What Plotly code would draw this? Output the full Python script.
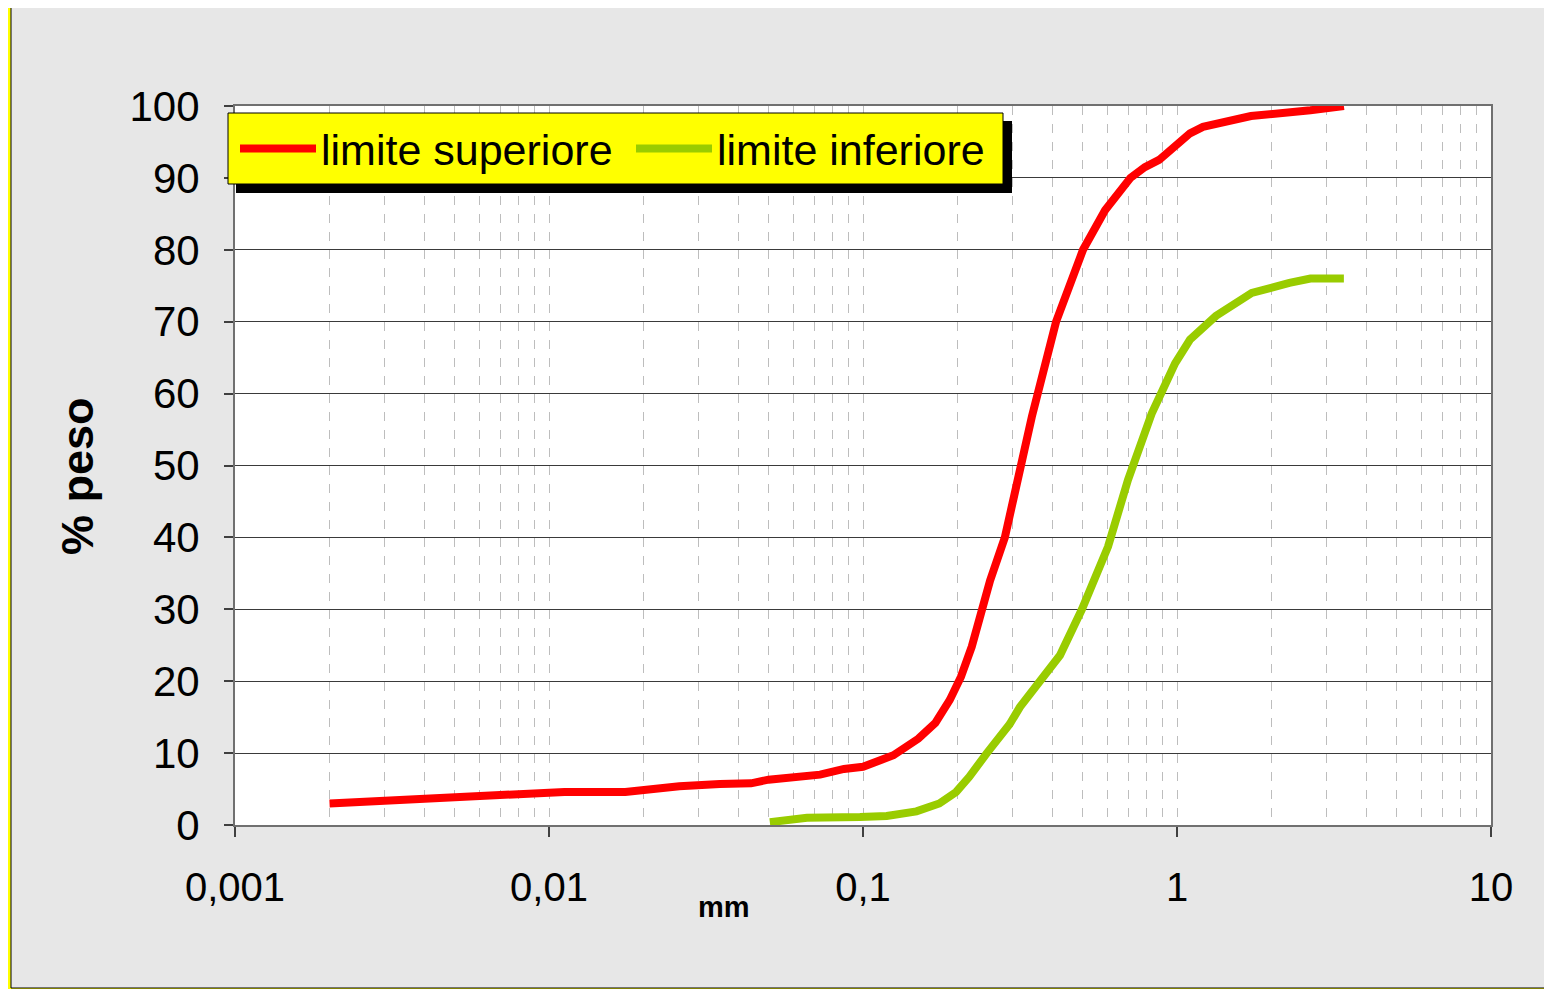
import plotly.graph_objects as go

# ---- data ----
sup_x = [0.002, 0.0112, 0.0175, 0.026, 0.035, 0.044, 0.05, 0.073, 0.087, 0.1,
         0.125, 0.15, 0.17, 0.189, 0.205, 0.222, 0.254, 0.283, 0.345, 0.412,
         0.502, 0.59, 0.711, 0.79, 0.877, 1.1, 1.21, 1.72, 2.66, 3.4]
sup_y = [3.0, 4.6, 4.6, 5.4, 5.7, 5.8, 6.3, 7.0, 7.8, 8.1,
         9.7, 12.0, 14.2, 17.4, 20.6, 24.8, 34.0, 40.0, 56.8, 70.0,
         80.0, 85.5, 90.0, 91.5, 92.5, 96.2, 97.1, 98.6, 99.4, 100.0]

inf_x = [0.0505, 0.0663, 0.0978, 0.119, 0.148, 0.175, 0.198, 0.218, 0.248,
         0.293, 0.316, 0.424, 0.498, 0.603, 0.698, 0.832, 0.986, 1.1, 1.33,
         1.73, 2.28, 2.66, 3.4]
inf_y = [0.4, 1.0, 1.1, 1.25, 1.9, 3.0, 4.6, 6.7, 10.0,
         14.0, 16.4, 23.6, 30.0, 38.7, 48.0, 57.3, 64.2, 67.5, 70.8,
         74.0, 75.4, 76.0, 76.0]

x_tickvals = [0.001, 0.01, 0.1, 1, 10]
x_ticktext = ["0,001", "0,01", "0,1", "1", "10"]
y_tickvals = list(range(0, 101, 10))
minor_vals = [m * d for d in (0.001, 0.01, 0.1, 1) for m in range(2, 10)]

name_sup = "limite superiore"
name_inf = "limite inferiore"
x_title = "mm"
y_title = "% peso"

# page layout (the html body adds an 8px offset)
OFF = 8
PW, PH = 1552, 989
W, H = PW - OFF, PH - OFF
PL, PR, PT, PB = 235, 1491, 106, 825          # plot area in page pixels
L, T = PL - OFF, PT - OFF
R, B = W - (PR - OFF), H - (PB - OFF)

def dx(p):   # page x pixel -> x domain fraction
    return (p - PL) / (PR - PL)

def dy(p):   # page y pixel -> y domain fraction
    return (PB - p) / (PB - PT)

FONT = "Liberation Sans, Arial, sans-serif"

fig = go.Figure()
fig.add_trace(go.Scatter(x=sup_x, y=sup_y, mode="lines", name=name_sup,
                         line=dict(color="#FF0000", width=8), legend="legend"))
fig.add_trace(go.Scatter(x=inf_x, y=inf_y, mode="lines", name=name_inf,
                         line=dict(color="#99CC00", width=8), legend="legend2"))

def rect(x0, y0, x1, y1, **kw):
    return dict(type="rect", xref="x domain", yref="y domain",
                x0=dx(x0), x1=dx(x1), y0=dy(y1), y1=dy(y0), **kw)

shapes = [
    rect(11, 5, 1546, 988, layer="below", fillcolor="#e7e7e7",
         line=dict(color="black", width=1)),
    rect(PL, PT, PR, PB, layer="below", fillcolor="white", line=dict(width=0)),
    # legend shadow and box
    rect(236, 121, 1012, 193, layer="above", fillcolor="black", line=dict(width=0)),
    rect(228, 113, 1003, 184, layer="above", fillcolor="#FFFF00",
         line=dict(color="black", width=1)),
]

legend_common = dict(
    orientation="h", xanchor="left", yanchor="top",
    bgcolor="rgba(0,0,0,0)", borderwidth=0,
    font=dict(family=FONT, size=43, color="black"),
    itemwidth=76,
)

fig.update_layout(
    width=W, height=H,
    margin=dict(l=L, r=R, t=T, b=B),
    paper_bgcolor="#FFFF00",
    plot_bgcolor="rgba(0,0,0,0)",
    font=dict(family=FONT, color="black", size=40),
    shapes=shapes,
    showlegend=True,
    legend=dict(x=dx(235), y=dy(114), **legend_common),
    legend2=dict(x=dx(631), y=dy(114), **legend_common),
)

fig.add_annotation(text="<b>" + x_title + "</b>", xref="x domain", yref="y domain",
                   x=dx(724), y=dy(907), xanchor="center", yanchor="middle",
                   showarrow=False, font=dict(family=FONT, size=29, color="black"))
fig.add_annotation(text="<b>" + y_title + "</b>", xref="x domain", yref="y domain",
                   x=dx(77), y=dy(476), xanchor="center", yanchor="middle",
                   textangle=-90, showarrow=False,
                   font=dict(family=FONT, size=45, color="black"))

fig.update_xaxes(
    type="log", range=[-3, 1],
    tickvals=x_tickvals, ticktext=x_ticktext,
    ticks="outside", ticklen=10, tickwidth=1.5, tickcolor="#404040",
    ticklabelstandoff=16,
    tickfont=dict(family=FONT, size=40, color="black"),
    showgrid=True, gridcolor="#bdbdbd", griddash="dash", gridwidth=1,
    minor=dict(tickvals=minor_vals, showgrid=True, gridcolor="#bdbdbd",
               griddash="dash", gridwidth=1, ticks=""),
    showline=True, linecolor="#707070", linewidth=2, mirror=True,
    zeroline=False,
)
fig.update_yaxes(
    range=[0, 100], tickvals=y_tickvals,
    ticks="outside", ticklen=9, tickwidth=1.5, tickcolor="#404040",
    ticklabelstandoff=16,
    tickfont=dict(family=FONT, size=42, color="black"),
    showgrid=True, gridcolor="#3a3a3a", gridwidth=1,
    showline=True, linecolor="#707070", linewidth=2, mirror=True,
    zeroline=False,
)

fig.write_html("out.html")
